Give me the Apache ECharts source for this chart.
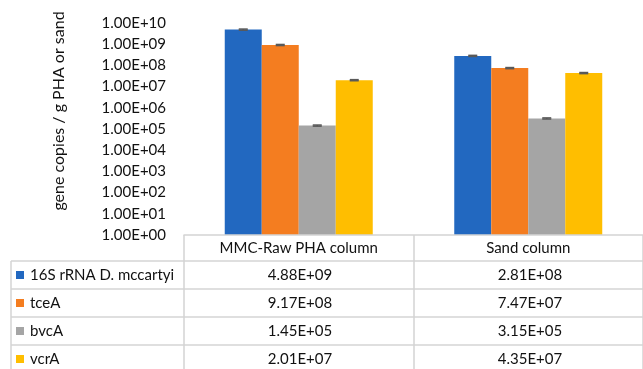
<!DOCTYPE html>
<html>
<head>
<meta charset="utf-8">
<script src="https://cdn.jsdelivr.net/npm/echarts@6/dist/echarts.min.js"></script>
<style>
html,body{margin:0;padding:0;background:#fff;}
#c{width:643px;height:369px;}
</style>
</head>
<body>
<div id="c"></div>
<script>
var categories = ['MMC-Raw PHA column', 'Sand column'];
var seriesNames = ['16S rRNA D. mccartyi', 'tceA', 'bvcA', 'vcrA'];
var s16S = [4.88e9, 2.81e8];
var sTceA = [9.17e8, 7.47e7];
var sBvcA = [1.45e5, 3.15e5];
var sVcrA = [2.01e7, 4.35e7];
var e16S = [3.0e8, 1.7e7];
var eTceA = [5.5e7, 4.5e6];
var eBvcA = [9.0e3, 1.9e4];
var eVcrA = [1.2e6, 2.6e6];
var yTickLabels = ['1.00E+00','1.00E+01','1.00E+02','1.00E+03','1.00E+04','1.00E+05','1.00E+06','1.00E+07','1.00E+08','1.00E+09','1.00E+10'];
var colors = ['#2268C0', '#F47D20', '#A5A5A5', '#FFBE00'];

var values = [s16S, sTceA, sBvcA, sVcrA];
var errors = [e16S, eTceA, eBvcA, eVcrA];
var FONT = 'Lato';
var FS = 15;
var BAR_W = 37;

function fmt(v) {
  var s = v.toExponential(2).split('e');
  var ex = parseInt(s[1], 10);
  var sign = ex < 0 ? '-' : '+';
  var a = Math.abs(ex);
  return s[0] + 'E' + sign + (a < 10 ? '0' + a : a);
}

var chart = echarts.init(document.getElementById('c'));

var series = [];
values.forEach(function (vals, i) {
  series.push({
    name: seriesNames[i],
    type: 'bar',
    barWidth: BAR_W,
    barGap: 0,
    itemStyle: { color: colors[i] },
    data: vals
  });
});
errors.forEach(function (errs, i) {
  series.push({
    type: 'custom',
    z: 5,
    data: errs.map(function (e, k) { return [k, values[i][k] - e, values[i][k] + e]; }),
    renderItem: function (params, api) {
      var c = api.value(0);
      var lo = api.coord([c, api.value(1)]);
      var hi = api.coord([c, api.value(2)]);
      var x = lo[0] + (i - 1.5) * BAR_W;
      var st = { stroke: '#595959', lineWidth: 1.5 };
      return {
        type: 'group',
        children: [
          { type: 'line', shape: { x1: x, y1: lo[1], x2: x, y2: hi[1] }, style: st },
          { type: 'line', shape: { x1: x - 4.5, y1: hi[1], x2: x + 4.5, y2: hi[1] }, style: st },
          { type: 'line', shape: { x1: x - 4.5, y1: lo[1], x2: x + 4.5, y2: lo[1] }, style: st }
        ]
      };
    }
  });
});

// table graphics
var LINE = '#D4D4D4';
var rowTops = [261, 289, 317, 345, 373];
var gr = [];
rowTops.forEach(function (y) {
  gr.push({ type: 'line', shape: { x1: 11, y1: y, x2: 643, y2: y }, style: { stroke: LINE, lineWidth: 1.5 } });
});
gr.push({ type: 'line', shape: { x1: 11, y1: 261, x2: 11, y2: 369 }, style: { stroke: LINE, lineWidth: 1.5 } });
var colCenters = [300, 530];
seriesNames.forEach(function (n, i) {
  var cy = rowTops[i] + 14.5;
  gr.push({ type: 'rect', shape: { x: 16, y: cy - 4.5, width: 8, height: 8 }, style: { fill: colors[i] } });
  gr.push({ type: 'text', x: 30, y: cy, style: { text: n, font: FS + 'px ' + FONT, fill: '#111', verticalAlign: 'middle', align: 'left' } });
  values[i].forEach(function (v, k) {
    gr.push({ type: 'text', x: colCenters[k], y: cy, style: { text: fmt(v), font: FS + 'px ' + FONT, fill: '#111', verticalAlign: 'middle', align: 'center' } });
  });
});

chart.setOption({
  animation: false,
  backgroundColor: '#fff',
  textStyle: { fontFamily: FONT },
  grid: { left: 184, right: 0, top: 23, bottom: 134, containLabel: false },
  xAxis: {
    type: 'category',
    data: categories,
    axisLine: { show: true, lineStyle: { color: LINE, width: 1.5 } },
    axisTick: { show: true, length: 140, interval: 0, lineStyle: { color: LINE, width: 1.5 } },
    axisLabel: { interval: 0, margin: 6, fontSize: FS, color: '#111', fontFamily: FONT, verticalAlign: 'top' },
    z: 3
  },
  yAxis: {
    type: 'log',
    logBase: 10,
    min: 1,
    max: 1e10,
    interval: 1,
    name: 'gene copies / g PHA or sand',
    nameLocation: 'middle',
    nameGap: 117,
    nameTextStyle: { fontSize: 16, color: '#111', fontFamily: FONT, padding: [0, 0, 0, 36] },
    axisLine: { show: false },
    axisTick: { show: false },
    splitLine: { show: false },
    axisLabel: {
      margin: 18, fontSize: FS, color: '#111', fontFamily: FONT,
      formatter: function (v) { return yTickLabels[Math.round(Math.log10(v))]; }
    }
  },
  series: series,
  graphic: gr
});
</script>
</body>
</html>
